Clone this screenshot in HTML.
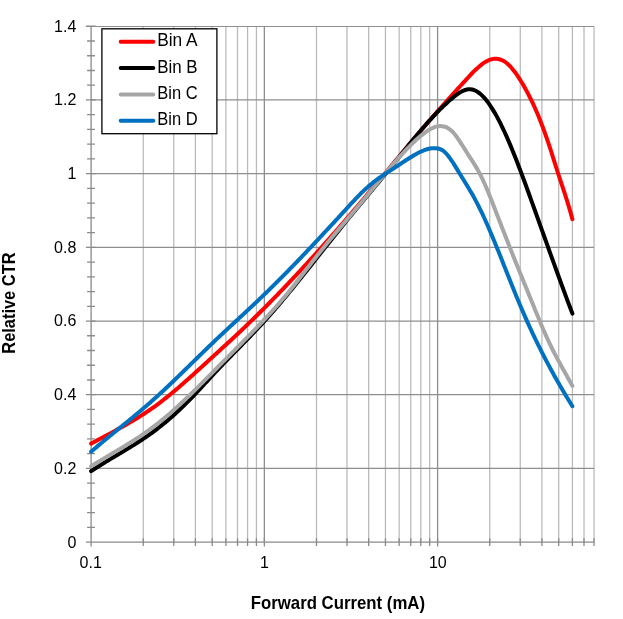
<!DOCTYPE html>
<html lang="en"><head><meta charset="utf-8"><title>Relative CTR vs Forward Current</title>
<style>
html,body{margin:0;padding:0;background:#fff;}
body{width:623px;height:619px;overflow:hidden;}
svg{display:block;}
text{font-family:"Liberation Sans",Arial,sans-serif;fill:#000;}
.tk{font-size:16px;}
.lg{font-size:17.6px;}
.ti{font-size:17.7px;font-weight:bold;}
</style></head><body>
<svg width="623" height="619" viewBox="0 0 623 619">
<rect width="623" height="619" fill="#fff"/>
<path d="M143.25 26.52V542.10M173.76 26.52V542.10M195.41 26.52V542.10M212.20 26.52V542.10M225.91 26.52V542.10M237.51 26.52V542.10M247.56 26.52V542.10M256.42 26.52V542.10M316.50 26.52V542.10M347.01 26.52V542.10M368.66 26.52V542.10M385.45 26.52V542.10M399.16 26.52V542.10M410.76 26.52V542.10M420.81 26.52V542.10M429.67 26.52V542.10M489.75 26.52V542.10M520.26 26.52V542.10M541.91 26.52V542.10M558.70 26.52V542.10M572.41 26.52V542.10M584.01 26.52V542.10M594.06 26.52V542.10" stroke="#b9b9b9" stroke-width="1.25" fill="none"/>
<path d="M264.35 26.52V542.10M437.60 26.52V542.10" stroke="#8e8e8e" stroke-width="1.3" fill="none"/>
<path d="M91.10 468.41H594.06M91.10 394.72H594.06M91.10 321.03H594.06M91.10 247.34H594.06M91.10 173.65H594.06M91.10 99.96H594.06M91.10 26.52H594.06" stroke="#8e8e8e" stroke-width="1.2" fill="none"/>
<path d="M91.10 26.52V546.10M86.10 542.10H594.06M85.90 542.10H95.60M87.10 527.36H94.90M87.10 512.62H94.90M87.10 497.89H94.90M87.10 483.15H94.90M85.90 468.41H95.60M87.10 453.67H94.90M87.10 438.93H94.90M87.10 424.20H94.90M87.10 409.46H94.90M85.90 394.72H95.60M87.10 379.98H94.90M87.10 365.24H94.90M87.10 350.51H94.90M87.10 335.77H94.90M85.90 321.03H95.60M87.10 306.29H94.90M87.10 291.55H94.90M87.10 276.82H94.90M87.10 262.08H94.90M85.90 247.34H95.60M87.10 232.60H94.90M87.10 217.86H94.90M87.10 203.13H94.90M87.10 188.39H94.90M85.90 173.65H95.60M87.10 158.91H94.90M87.10 144.17H94.90M87.10 129.44H94.90M87.10 114.70H94.90M85.90 99.96H95.60M87.10 85.22H94.90M87.10 70.48H94.90M87.10 55.75H94.90M87.10 41.01H94.90M85.90 26.27H95.60M91.10 538.30V546.50M143.25 538.30V545.90M173.76 538.30V545.90M195.41 538.30V545.90M212.20 538.30V545.90M225.91 538.30V545.90M237.51 538.30V545.90M247.56 538.30V545.90M256.42 538.30V545.90M264.35 538.30V546.50M316.50 538.30V545.90M347.01 538.30V545.90M368.66 538.30V545.90M385.45 538.30V545.90M399.16 538.30V545.90M410.76 538.30V545.90M420.81 538.30V545.90M429.67 538.30V545.90M437.60 538.30V546.50M489.75 538.30V545.90M520.26 538.30V545.90M541.91 538.30V545.90M558.70 538.30V545.90M572.41 538.30V545.90M584.01 538.30V545.90M594.06 538.30V545.90" stroke="#8a8a8a" stroke-width="1.3" fill="none"/>
<path d="M91.10 443.62C91.77 443.26 92.44 442.90 93.11 442.54C93.77 442.17 94.44 441.82 95.11 441.46C95.78 441.10 96.45 440.74 97.12 440.38C97.78 440.02 98.45 439.67 99.12 439.31C99.79 438.95 100.46 438.60 101.13 438.24C101.80 437.88 102.46 437.53 103.13 437.17C103.80 436.82 104.47 436.46 105.14 436.11C105.81 435.75 106.47 435.39 107.14 435.04C107.81 434.68 108.48 434.32 109.15 433.96C109.82 433.61 110.49 433.25 111.15 432.89C111.82 432.53 112.49 432.17 113.16 431.81C113.83 431.45 114.50 431.09 115.16 430.72C115.83 430.36 116.50 430.00 117.17 429.63C117.84 429.27 118.51 428.90 119.18 428.53C119.84 428.16 120.51 427.79 121.18 427.42C121.85 427.05 122.52 426.68 123.19 426.30C123.86 425.93 124.52 425.55 125.19 425.17C125.86 424.79 126.53 424.41 127.20 424.03C127.87 423.64 128.53 423.26 129.20 422.87C129.87 422.48 130.54 422.09 131.21 421.70C131.88 421.30 132.55 420.91 133.21 420.51C133.88 420.11 134.55 419.71 135.22 419.30C135.89 418.90 136.56 418.49 137.22 418.08C137.89 417.67 138.56 417.25 139.23 416.84C139.90 416.42 140.57 416.00 141.24 415.57C141.90 415.15 142.57 414.72 143.24 414.29C143.91 413.85 144.58 413.42 145.25 412.98C145.91 412.54 146.58 412.09 147.25 411.64C147.92 411.19 148.59 410.74 149.26 410.28C149.93 409.83 150.59 409.37 151.26 408.90C151.93 408.43 152.60 407.96 153.27 407.49C153.94 407.01 154.60 406.53 155.27 406.05C155.94 405.56 156.61 405.07 157.28 404.58C157.95 404.08 158.62 403.58 159.28 403.08C159.95 402.58 160.62 402.07 161.29 401.55C161.96 401.04 162.63 400.52 163.29 400.00C163.96 399.48 164.63 398.96 165.30 398.43C165.97 397.90 166.64 397.36 167.31 396.83C167.97 396.29 168.64 395.75 169.31 395.21C169.98 394.66 170.65 394.11 171.32 393.56C171.99 393.01 172.65 392.46 173.32 391.90C173.99 391.34 174.66 390.78 175.33 390.22C176.00 389.65 176.66 389.09 177.33 388.52C178.00 387.95 178.67 387.37 179.34 386.80C180.01 386.22 180.68 385.65 181.34 385.07C182.01 384.49 182.68 383.90 183.35 383.32C184.02 382.73 184.69 382.15 185.35 381.56C186.02 380.97 186.69 380.38 187.36 379.79C188.03 379.19 188.70 378.60 189.37 378.00C190.03 377.40 190.70 376.81 191.37 376.21C192.04 375.61 192.71 375.01 193.38 374.40C194.04 373.80 194.71 373.20 195.38 372.59C196.05 371.99 196.72 371.38 197.39 370.77C198.06 370.17 198.72 369.56 199.39 368.95C200.06 368.34 200.73 367.73 201.40 367.12C202.07 366.51 202.73 365.90 203.40 365.29C204.07 364.68 204.74 364.07 205.41 363.46C206.08 362.85 206.75 362.24 207.41 361.63C208.08 361.02 208.75 360.40 209.42 359.79C210.09 359.18 210.76 358.57 211.43 357.96C212.09 357.35 212.76 356.74 213.43 356.13C214.10 355.52 214.77 354.91 215.44 354.30C216.10 353.69 216.77 353.08 217.44 352.48C218.11 351.87 218.78 351.26 219.45 350.65C220.12 350.04 220.78 349.43 221.45 348.82C222.12 348.21 222.79 347.60 223.46 346.99C224.13 346.38 224.79 345.77 225.46 345.16C226.13 344.55 226.80 343.94 227.47 343.32C228.14 342.71 228.81 342.10 229.47 341.48C230.14 340.87 230.81 340.25 231.48 339.63C232.15 339.02 232.82 338.40 233.48 337.78C234.15 337.16 234.82 336.54 235.49 335.92C236.16 335.29 236.83 334.67 237.50 334.04C238.16 333.42 238.83 332.79 239.50 332.16C240.17 331.53 240.84 330.90 241.51 330.27C242.17 329.64 242.84 329.00 243.51 328.37C244.18 327.73 244.85 327.09 245.52 326.45C246.19 325.81 246.85 325.17 247.52 324.53C248.19 323.89 248.86 323.24 249.53 322.60C250.20 321.95 250.86 321.30 251.53 320.65C252.20 320.00 252.87 319.35 253.54 318.70C254.21 318.05 254.88 317.39 255.54 316.74C256.21 316.08 256.88 315.43 257.55 314.77C258.22 314.11 258.89 313.45 259.55 312.79C260.22 312.12 260.89 311.46 261.56 310.79C262.23 310.13 262.90 309.46 263.57 308.79C264.23 308.13 264.90 307.46 265.57 306.79C266.24 306.11 266.91 305.44 267.58 304.77C268.25 304.09 268.91 303.42 269.58 302.74C270.25 302.06 270.92 301.38 271.59 300.70C272.26 300.02 272.92 299.34 273.59 298.66C274.26 297.97 274.93 297.29 275.60 296.60C276.27 295.92 276.94 295.23 277.60 294.54C278.27 293.85 278.94 293.16 279.61 292.47C280.28 291.77 280.95 291.08 281.61 290.39C282.28 289.69 282.95 288.99 283.62 288.30C284.29 287.60 284.96 286.90 285.63 286.20C286.29 285.50 286.96 284.80 287.63 284.09C288.30 283.39 288.97 282.68 289.64 281.98C290.30 281.27 290.97 280.56 291.64 279.86C292.31 279.15 292.98 278.44 293.65 277.72C294.32 277.01 294.98 276.30 295.65 275.59C296.32 274.87 296.99 274.16 297.66 273.44C298.33 272.72 298.99 272.00 299.66 271.28C300.33 270.56 301.00 269.84 301.67 269.12C302.34 268.40 303.01 267.68 303.67 266.95C304.34 266.23 305.01 265.50 305.68 264.77C306.35 264.05 307.02 263.32 307.69 262.59C308.35 261.86 309.02 261.13 309.69 260.40C310.36 259.66 311.03 258.93 311.70 258.19C312.36 257.46 313.03 256.72 313.70 255.99C314.37 255.25 315.04 254.51 315.71 253.77C316.38 253.03 317.04 252.29 317.71 251.55C318.38 250.81 319.05 250.07 319.72 249.32C320.39 248.58 321.05 247.83 321.72 247.08C322.39 246.34 323.06 245.59 323.73 244.84C324.40 244.09 325.07 243.34 325.73 242.59C326.40 241.84 327.07 241.09 327.74 240.33C328.41 239.58 329.08 238.83 329.74 238.07C330.41 237.32 331.08 236.56 331.75 235.80C332.42 235.04 333.09 234.28 333.76 233.52C334.42 232.76 335.09 232.00 335.76 231.24C336.43 230.48 337.10 229.72 337.77 228.95C338.43 228.19 339.10 227.42 339.77 226.66C340.44 225.89 341.11 225.12 341.78 224.35C342.45 223.59 343.11 222.82 343.78 222.05C344.45 221.28 345.12 220.51 345.79 219.73C346.46 218.96 347.12 218.19 347.79 217.41C348.46 216.64 349.13 215.86 349.80 215.09C350.47 214.31 351.14 213.53 351.80 212.76C352.47 211.98 353.14 211.20 353.81 210.42C354.48 209.64 355.15 208.86 355.81 208.08C356.48 207.29 357.15 206.51 357.82 205.73C358.49 204.94 359.16 204.16 359.83 203.37C360.49 202.59 361.16 201.80 361.83 201.01C362.50 200.23 363.17 199.44 363.84 198.65C364.51 197.86 365.17 197.07 365.84 196.28C366.51 195.49 367.18 194.70 367.85 193.90C368.52 193.11 369.18 192.32 369.85 191.52C370.52 190.73 371.19 189.94 371.86 189.14C372.53 188.34 373.20 187.55 373.86 186.75C374.53 185.95 375.20 185.16 375.87 184.36C376.54 183.56 377.21 182.76 377.87 181.96C378.54 181.16 379.21 180.36 379.88 179.56C380.55 178.76 381.22 177.96 381.89 177.16C382.55 176.36 383.22 175.56 383.89 174.76C384.56 173.96 385.23 173.15 385.90 172.35C386.56 171.55 387.23 170.75 387.90 169.95C388.57 169.14 389.24 168.34 389.91 167.54C390.58 166.74 391.24 165.93 391.91 165.13C392.58 164.33 393.25 163.53 393.92 162.72C394.59 161.92 395.25 161.12 395.92 160.32C396.59 159.52 397.26 158.72 397.93 157.91C398.60 157.11 399.27 156.31 399.93 155.51C400.60 154.71 401.27 153.91 401.94 153.11C402.61 152.31 403.28 151.51 403.94 150.71C404.61 149.91 405.28 149.11 405.95 148.32C406.62 147.52 407.29 146.72 407.96 145.93C408.62 145.13 409.29 144.33 409.96 143.54C410.63 142.74 411.30 141.95 411.97 141.15C412.64 140.36 413.30 139.57 413.97 138.78C414.64 137.98 415.31 137.19 415.98 136.40C416.65 135.61 417.31 134.82 417.98 134.04C418.65 133.25 419.32 132.46 419.99 131.68C420.66 130.89 421.33 130.11 421.99 129.32C422.66 128.54 423.33 127.76 424.00 126.98C424.67 126.20 425.34 125.42 426.00 124.64C426.67 123.86 427.34 123.08 428.01 122.31C428.68 121.53 429.35 120.76 430.02 119.98C430.68 119.21 431.35 118.44 432.02 117.67C432.69 116.90 433.36 116.13 434.03 115.37C434.69 114.60 435.36 113.84 436.03 113.07C436.70 112.31 437.37 111.55 438.04 110.79C438.71 110.03 439.37 109.28 440.04 108.52C440.71 107.76 441.38 107.01 442.05 106.26C442.72 105.51 443.38 104.75 444.05 104.00C444.72 103.26 445.39 102.51 446.06 101.76C446.73 101.01 447.40 100.27 448.06 99.53C448.73 98.78 449.40 98.04 450.07 97.30C450.74 96.56 451.41 95.82 452.07 95.08C452.74 94.34 453.41 93.60 454.08 92.86C454.75 92.13 455.42 91.39 456.09 90.66C456.75 89.92 457.42 89.19 458.09 88.45C458.76 87.72 459.43 86.99 460.10 86.26C460.77 85.52 461.43 84.79 462.10 84.06C462.77 83.33 463.44 82.60 464.11 81.87C464.78 81.14 465.44 80.42 466.11 79.69C466.78 78.96 467.45 78.23 468.12 77.51C468.79 76.79 469.46 76.07 470.12 75.36C470.79 74.64 471.46 73.94 472.13 73.25C472.80 72.56 473.47 71.87 474.13 71.21C474.80 70.54 475.47 69.89 476.14 69.25C476.81 68.62 477.48 68.00 478.15 67.40C478.81 66.81 479.48 66.23 480.15 65.68C480.82 65.13 481.49 64.60 482.16 64.10C482.82 63.61 483.49 63.13 484.16 62.69C484.83 62.25 485.50 61.85 486.17 61.47C486.84 61.10 487.50 60.76 488.17 60.45C488.84 60.15 489.51 59.89 490.18 59.66C490.85 59.44 491.51 59.26 492.18 59.12C492.85 58.97 493.52 58.88 494.19 58.82C494.86 58.76 495.53 58.75 496.19 58.78C496.86 58.82 497.53 58.89 498.20 59.01C498.87 59.14 499.54 59.30 500.21 59.52C500.87 59.73 501.54 59.99 502.21 60.30C502.88 60.61 503.55 60.97 504.22 61.38C504.88 61.79 505.55 62.24 506.22 62.75C506.89 63.26 507.56 63.82 508.23 64.43C508.90 65.04 509.56 65.70 510.23 66.41C510.90 67.12 511.57 67.87 512.24 68.67C512.91 69.47 513.57 70.31 514.24 71.19C514.91 72.07 515.58 72.99 516.25 73.94C516.92 74.89 517.59 75.87 518.25 76.89C518.92 77.90 519.59 78.95 520.26 80.02C520.93 81.08 521.60 82.18 522.26 83.30C522.93 84.42 523.60 85.56 524.27 86.74C524.94 87.91 525.61 89.11 526.28 90.34C526.94 91.57 527.61 92.83 528.28 94.12C528.95 95.40 529.62 96.72 530.29 98.07C530.95 99.42 531.62 100.79 532.29 102.20C532.96 103.62 533.63 105.06 534.30 106.54C534.97 108.01 535.63 109.52 536.30 111.07C536.97 112.61 537.64 114.19 538.31 115.80C538.98 117.42 539.64 119.07 540.31 120.75C540.98 122.44 541.65 124.16 542.32 125.93C542.99 127.69 543.66 129.49 544.32 131.33C544.99 133.17 545.66 135.05 546.33 136.97C547.00 138.89 547.67 140.85 548.34 142.85C549.00 144.85 549.67 146.89 550.34 148.97C551.01 151.04 551.68 153.14 552.35 155.25C553.01 157.37 553.68 159.50 554.35 161.62C555.02 163.75 555.69 165.87 556.36 167.98C557.03 170.09 557.69 172.18 558.36 174.24C559.03 176.30 559.70 178.33 560.37 180.34C561.04 182.36 561.70 184.36 562.37 186.36C563.04 188.37 563.71 190.38 564.38 192.41C565.05 194.45 565.72 196.51 566.38 198.61C567.05 200.71 567.72 202.85 568.39 205.05C569.06 207.26 569.73 209.52 570.39 211.86C571.06 214.20 571.73 216.63 572.40 219.15" stroke="#ff0000" stroke-width="4.0" fill="none" stroke-linecap="round" stroke-linejoin="round"/>
<path d="M91.10 471.17C91.77 470.73 92.44 470.29 93.11 469.85C93.77 469.41 94.44 468.98 95.11 468.55C95.78 468.12 96.45 467.69 97.12 467.26C97.78 466.84 98.45 466.41 99.12 465.99C99.79 465.57 100.46 465.15 101.13 464.74C101.80 464.32 102.46 463.91 103.13 463.50C103.80 463.09 104.47 462.68 105.14 462.27C105.81 461.86 106.47 461.46 107.14 461.05C107.81 460.65 108.48 460.24 109.15 459.84C109.82 459.44 110.49 459.04 111.15 458.64C111.82 458.24 112.49 457.84 113.16 457.44C113.83 457.04 114.50 456.64 115.16 456.24C115.83 455.84 116.50 455.44 117.17 455.05C117.84 454.65 118.51 454.25 119.18 453.85C119.84 453.45 120.51 453.05 121.18 452.65C121.85 452.25 122.52 451.85 123.19 451.45C123.86 451.05 124.52 450.65 125.19 450.25C125.86 449.84 126.53 449.44 127.20 449.03C127.87 448.63 128.53 448.22 129.20 447.81C129.87 447.40 130.54 446.99 131.21 446.58C131.88 446.16 132.55 445.75 133.21 445.33C133.88 444.92 134.55 444.50 135.22 444.07C135.89 443.65 136.56 443.23 137.22 442.80C137.89 442.37 138.56 441.94 139.23 441.51C139.90 441.07 140.57 440.64 141.24 440.20C141.90 439.76 142.57 439.31 143.24 438.86C143.91 438.42 144.58 437.96 145.25 437.51C145.91 437.05 146.58 436.59 147.25 436.13C147.92 435.67 148.59 435.20 149.26 434.73C149.93 434.25 150.59 433.78 151.26 433.29C151.93 432.81 152.60 432.33 153.27 431.83C153.94 431.34 154.60 430.84 155.27 430.34C155.94 429.84 156.61 429.33 157.28 428.82C157.95 428.30 158.62 427.78 159.28 427.26C159.95 426.74 160.62 426.21 161.29 425.67C161.96 425.14 162.63 424.60 163.29 424.05C163.96 423.51 164.63 422.96 165.30 422.40C165.97 421.84 166.64 421.28 167.31 420.72C167.97 420.15 168.64 419.58 169.31 419.00C169.98 418.43 170.65 417.84 171.32 417.26C171.99 416.67 172.65 416.08 173.32 415.48C173.99 414.88 174.66 414.28 175.33 413.67C176.00 413.06 176.66 412.45 177.33 411.83C178.00 411.21 178.67 410.59 179.34 409.96C180.01 409.33 180.68 408.70 181.34 408.06C182.01 407.42 182.68 406.78 183.35 406.13C184.02 405.48 184.69 404.82 185.35 404.17C186.02 403.51 186.69 402.84 187.36 402.17C188.03 401.50 188.70 400.83 189.37 400.15C190.03 399.47 190.70 398.79 191.37 398.10C192.04 397.41 192.71 396.72 193.38 396.02C194.04 395.32 194.71 394.61 195.38 393.90C196.05 393.20 196.72 392.48 197.39 391.76C198.06 391.05 198.72 390.32 199.39 389.60C200.06 388.88 200.73 388.15 201.40 387.42C202.07 386.69 202.73 385.96 203.40 385.22C204.07 384.49 204.74 383.76 205.41 383.02C206.08 382.29 206.75 381.56 207.41 380.82C208.08 380.09 208.75 379.36 209.42 378.63C210.09 377.90 210.76 377.18 211.43 376.45C212.09 375.73 212.76 375.01 213.43 374.29C214.10 373.57 214.77 372.86 215.44 372.14C216.10 371.43 216.77 370.72 217.44 370.02C218.11 369.31 218.78 368.61 219.45 367.91C220.12 367.21 220.78 366.51 221.45 365.81C222.12 365.12 222.79 364.42 223.46 363.73C224.13 363.04 224.79 362.35 225.46 361.66C226.13 360.97 226.80 360.28 227.47 359.59C228.14 358.91 228.81 358.22 229.47 357.54C230.14 356.86 230.81 356.17 231.48 355.49C232.15 354.81 232.82 354.13 233.48 353.44C234.15 352.76 234.82 352.08 235.49 351.40C236.16 350.72 236.83 350.04 237.50 349.36C238.16 348.68 238.83 348.00 239.50 347.32C240.17 346.64 240.84 345.95 241.51 345.27C242.17 344.59 242.84 343.91 243.51 343.22C244.18 342.54 244.85 341.85 245.52 341.17C246.19 340.48 246.85 339.79 247.52 339.10C248.19 338.41 248.86 337.72 249.53 337.03C250.20 336.34 250.86 335.64 251.53 334.95C252.20 334.25 252.87 333.55 253.54 332.85C254.21 332.15 254.88 331.44 255.54 330.74C256.21 330.03 256.88 329.32 257.55 328.61C258.22 327.90 258.89 327.18 259.55 326.46C260.22 325.74 260.89 325.02 261.56 324.30C262.23 323.57 262.90 322.84 263.57 322.11C264.23 321.38 264.90 320.64 265.57 319.90C266.24 319.16 266.91 318.42 267.58 317.67C268.25 316.92 268.91 316.17 269.58 315.41C270.25 314.66 270.92 313.90 271.59 313.14C272.26 312.37 272.92 311.61 273.59 310.84C274.26 310.07 274.93 309.30 275.60 308.52C276.27 307.75 276.94 306.97 277.60 306.19C278.27 305.41 278.94 304.62 279.61 303.83C280.28 303.05 280.95 302.26 281.61 301.46C282.28 300.67 282.95 299.87 283.62 299.08C284.29 298.28 284.96 297.48 285.63 296.67C286.29 295.87 286.96 295.06 287.63 294.26C288.30 293.45 288.97 292.64 289.64 291.82C290.30 291.01 290.97 290.20 291.64 289.38C292.31 288.56 292.98 287.75 293.65 286.93C294.32 286.11 294.98 285.28 295.65 284.46C296.32 283.64 296.99 282.81 297.66 281.98C298.33 281.16 298.99 280.33 299.66 279.50C300.33 278.67 301.00 277.84 301.67 277.00C302.34 276.17 303.01 275.34 303.67 274.50C304.34 273.66 305.01 272.83 305.68 271.99C306.35 271.15 307.02 270.32 307.69 269.48C308.35 268.64 309.02 267.80 309.69 266.96C310.36 266.12 311.03 265.27 311.70 264.43C312.36 263.59 313.03 262.75 313.70 261.91C314.37 261.06 315.04 260.22 315.71 259.38C316.38 258.53 317.04 257.69 317.71 256.84C318.38 256.00 319.05 255.16 319.72 254.31C320.39 253.47 321.05 252.62 321.72 251.78C322.39 250.94 323.06 250.09 323.73 249.25C324.40 248.41 325.07 247.56 325.73 246.72C326.40 245.88 327.07 245.04 327.74 244.19C328.41 243.35 329.08 242.51 329.74 241.67C330.41 240.83 331.08 239.99 331.75 239.15C332.42 238.31 333.09 237.48 333.76 236.64C334.42 235.80 335.09 234.97 335.76 234.13C336.43 233.30 337.10 232.47 337.77 231.63C338.43 230.80 339.10 229.97 339.77 229.14C340.44 228.31 341.11 227.49 341.78 226.66C342.45 225.83 343.11 225.01 343.78 224.19C344.45 223.36 345.12 222.54 345.79 221.72C346.46 220.91 347.12 220.09 347.79 219.27C348.46 218.46 349.13 217.64 349.80 216.83C350.47 216.02 351.14 215.21 351.80 214.40C352.47 213.59 353.14 212.79 353.81 211.98C354.48 211.18 355.15 210.37 355.81 209.57C356.48 208.76 357.15 207.96 357.82 207.16C358.49 206.36 359.16 205.56 359.83 204.76C360.49 203.96 361.16 203.16 361.83 202.36C362.50 201.56 363.17 200.76 363.84 199.96C364.51 199.16 365.17 198.36 365.84 197.57C366.51 196.77 367.18 195.97 367.85 195.17C368.52 194.37 369.18 193.57 369.85 192.77C370.52 191.97 371.19 191.17 371.86 190.37C372.53 189.57 373.20 188.77 373.86 187.96C374.53 187.16 375.20 186.36 375.87 185.55C376.54 184.75 377.21 183.94 377.87 183.13C378.54 182.33 379.21 181.52 379.88 180.71C380.55 179.90 381.22 179.08 381.89 178.27C382.55 177.46 383.22 176.64 383.89 175.82C384.56 175.00 385.23 174.18 385.90 173.36C386.56 172.54 387.23 171.72 387.90 170.89C388.57 170.06 389.24 169.24 389.91 168.41C390.58 167.58 391.24 166.75 391.91 165.92C392.58 165.09 393.25 164.25 393.92 163.42C394.59 162.59 395.25 161.75 395.92 160.92C396.59 160.09 397.26 159.25 397.93 158.42C398.60 157.58 399.27 156.75 399.93 155.92C400.60 155.08 401.27 154.25 401.94 153.42C402.61 152.58 403.28 151.75 403.94 150.92C404.61 150.09 405.28 149.26 405.95 148.44C406.62 147.61 407.29 146.78 407.96 145.96C408.62 145.14 409.29 144.31 409.96 143.49C410.63 142.67 411.30 141.86 411.97 141.04C412.64 140.23 413.30 139.42 413.97 138.61C414.64 137.80 415.31 136.99 415.98 136.19C416.65 135.39 417.31 134.59 417.98 133.79C418.65 133.00 419.32 132.21 419.99 131.42C420.66 130.63 421.33 129.85 421.99 129.07C422.66 128.30 423.33 127.52 424.00 126.75C424.67 125.98 425.34 125.22 426.00 124.46C426.67 123.70 427.34 122.95 428.01 122.20C428.68 121.45 429.35 120.71 430.02 119.98C430.68 119.24 431.35 118.51 432.02 117.79C432.69 117.06 433.36 116.35 434.03 115.64C434.69 114.92 435.36 114.22 436.03 113.52C436.70 112.83 437.37 112.14 438.04 111.46C438.71 110.78 439.37 110.10 440.04 109.43C440.71 108.77 441.38 108.11 442.05 107.46C442.72 106.81 443.38 106.17 444.05 105.53C444.72 104.90 445.39 104.27 446.06 103.66C446.73 103.04 447.40 102.44 448.06 101.84C448.73 101.24 449.40 100.65 450.07 100.07C450.74 99.50 451.41 98.93 452.07 98.37C452.74 97.81 453.41 97.26 454.08 96.72C454.75 96.19 455.42 95.67 456.09 95.16C456.75 94.66 457.42 94.17 458.09 93.71C458.76 93.25 459.43 92.82 460.10 92.41C460.77 92.01 461.43 91.63 462.10 91.29C462.77 90.95 463.44 90.65 464.11 90.38C464.78 90.12 465.44 89.90 466.11 89.72C466.78 89.54 467.45 89.42 468.12 89.34C468.79 89.26 469.46 89.24 470.12 89.27C470.79 89.30 471.46 89.38 472.13 89.52C472.80 89.66 473.47 89.86 474.13 90.11C474.80 90.35 475.47 90.65 476.14 91.01C476.81 91.37 477.48 91.77 478.15 92.23C478.81 92.69 479.48 93.21 480.15 93.76C480.82 94.32 481.49 94.93 482.16 95.59C482.82 96.24 483.49 96.95 484.16 97.69C484.83 98.44 485.50 99.23 486.17 100.06C486.84 100.89 487.50 101.76 488.17 102.67C488.84 103.58 489.51 104.54 490.18 105.52C490.85 106.51 491.51 107.54 492.18 108.60C492.85 109.66 493.52 110.75 494.19 111.88C494.86 113.02 495.53 114.18 496.19 115.38C496.86 116.58 497.53 117.81 498.20 119.07C498.87 120.33 499.54 121.63 500.21 122.95C500.87 124.27 501.54 125.63 502.21 127.01C502.88 128.39 503.55 129.81 504.22 131.25C504.88 132.68 505.55 134.15 506.22 135.64C506.89 137.14 507.56 138.66 508.23 140.20C508.90 141.74 509.56 143.31 510.23 144.90C510.90 146.50 511.57 148.11 512.24 149.75C512.91 151.38 513.57 153.04 514.24 154.71C514.91 156.39 515.58 158.08 516.25 159.79C516.92 161.51 517.59 163.23 518.25 164.98C518.92 166.72 519.59 168.48 520.26 170.25C520.93 172.03 521.60 173.81 522.26 175.61C522.93 177.40 523.60 179.21 524.27 181.03C524.94 182.85 525.61 184.67 526.28 186.51C526.94 188.34 527.61 190.18 528.28 192.03C528.95 193.88 529.62 195.73 530.29 197.58C530.95 199.44 531.62 201.30 532.29 203.16C532.96 205.02 533.63 206.88 534.30 208.75C534.97 210.61 535.63 212.48 536.30 214.34C536.97 216.21 537.64 218.08 538.31 219.95C538.98 221.82 539.64 223.68 540.31 225.55C540.98 227.42 541.65 229.29 542.32 231.16C542.99 233.03 543.66 234.90 544.32 236.77C544.99 238.64 545.66 240.51 546.33 242.38C547.00 244.24 547.67 246.11 548.34 247.97C549.00 249.84 549.67 251.70 550.34 253.56C551.01 255.42 551.68 257.28 552.35 259.13C553.01 260.99 553.68 262.84 554.35 264.69C555.02 266.54 555.69 268.39 556.36 270.23C557.03 272.08 557.69 273.92 558.36 275.75C559.03 277.59 559.70 279.42 560.37 281.25C561.04 283.08 561.70 284.90 562.37 286.72C563.04 288.54 563.71 290.36 564.38 292.17C565.05 293.98 565.72 295.78 566.38 297.58C567.05 299.38 567.72 301.17 568.39 302.95C569.06 304.74 569.73 306.52 570.39 308.29C571.06 310.07 571.73 311.83 572.40 313.59" stroke="#000000" stroke-width="4.0" fill="none" stroke-linecap="round" stroke-linejoin="round"/>
<path d="M91.10 466.29C91.77 465.87 92.44 465.45 93.11 465.04C93.77 464.62 94.44 464.21 95.11 463.79C95.78 463.38 96.45 462.97 97.12 462.56C97.78 462.15 98.45 461.75 99.12 461.34C99.79 460.94 100.46 460.53 101.13 460.13C101.80 459.73 102.46 459.33 103.13 458.93C103.80 458.53 104.47 458.13 105.14 457.73C105.81 457.33 106.47 456.93 107.14 456.53C107.81 456.14 108.48 455.74 109.15 455.34C109.82 454.95 110.49 454.55 111.15 454.15C111.82 453.76 112.49 453.36 113.16 452.97C113.83 452.57 114.50 452.17 115.16 451.77C115.83 451.38 116.50 450.98 117.17 450.58C117.84 450.18 118.51 449.78 119.18 449.38C119.84 448.98 120.51 448.58 121.18 448.18C121.85 447.78 122.52 447.38 123.19 446.97C123.86 446.57 124.52 446.16 125.19 445.75C125.86 445.34 126.53 444.93 127.20 444.52C127.87 444.11 128.53 443.70 129.20 443.28C129.87 442.86 130.54 442.45 131.21 442.03C131.88 441.61 132.55 441.18 133.21 440.76C133.88 440.33 134.55 439.90 135.22 439.47C135.89 439.04 136.56 438.61 137.22 438.17C137.89 437.73 138.56 437.29 139.23 436.85C139.90 436.41 140.57 435.96 141.24 435.51C141.90 435.06 142.57 434.60 143.24 434.14C143.91 433.69 144.58 433.22 145.25 432.76C145.91 432.29 146.58 431.82 147.25 431.34C147.92 430.87 148.59 430.39 149.26 429.91C149.93 429.42 150.59 428.93 151.26 428.44C151.93 427.95 152.60 427.45 153.27 426.95C153.94 426.44 154.60 425.93 155.27 425.42C155.94 424.91 156.61 424.39 157.28 423.86C157.95 423.34 158.62 422.81 159.28 422.27C159.95 421.74 160.62 421.20 161.29 420.66C161.96 420.11 162.63 419.56 163.29 419.01C163.96 418.46 164.63 417.90 165.30 417.34C165.97 416.77 166.64 416.21 167.31 415.64C167.97 415.07 168.64 414.49 169.31 413.91C169.98 413.33 170.65 412.75 171.32 412.16C171.99 411.57 172.65 410.98 173.32 410.39C173.99 409.79 174.66 409.19 175.33 408.59C176.00 407.99 176.66 407.38 177.33 406.77C178.00 406.16 178.67 405.55 179.34 404.94C180.01 404.32 180.68 403.70 181.34 403.08C182.01 402.46 182.68 401.83 183.35 401.20C184.02 400.57 184.69 399.94 185.35 399.31C186.02 398.68 186.69 398.04 187.36 397.40C188.03 396.76 188.70 396.12 189.37 395.48C190.03 394.83 190.70 394.19 191.37 393.54C192.04 392.89 192.71 392.24 193.38 391.59C194.04 390.93 194.71 390.28 195.38 389.62C196.05 388.96 196.72 388.31 197.39 387.65C198.06 386.98 198.72 386.32 199.39 385.66C200.06 385.00 200.73 384.33 201.40 383.66C202.07 383.00 202.73 382.33 203.40 381.66C204.07 380.99 204.74 380.32 205.41 379.65C206.08 378.98 206.75 378.31 207.41 377.63C208.08 376.96 208.75 376.29 209.42 375.61C210.09 374.94 210.76 374.26 211.43 373.59C212.09 372.91 212.76 372.23 213.43 371.56C214.10 370.88 214.77 370.20 215.44 369.53C216.10 368.85 216.77 368.17 217.44 367.50C218.11 366.82 218.78 366.14 219.45 365.46C220.12 364.79 220.78 364.11 221.45 363.43C222.12 362.76 222.79 362.08 223.46 361.40C224.13 360.73 224.79 360.05 225.46 359.38C226.13 358.70 226.80 358.03 227.47 357.36C228.14 356.68 228.81 356.01 229.47 355.34C230.14 354.66 230.81 353.99 231.48 353.32C232.15 352.65 232.82 351.98 233.48 351.30C234.15 350.63 234.82 349.96 235.49 349.29C236.16 348.62 236.83 347.95 237.50 347.27C238.16 346.60 238.83 345.93 239.50 345.25C240.17 344.58 240.84 343.91 241.51 343.23C242.17 342.56 242.84 341.88 243.51 341.21C244.18 340.53 244.85 339.85 245.52 339.17C246.19 338.49 246.85 337.81 247.52 337.13C248.19 336.45 248.86 335.77 249.53 335.09C250.20 334.40 250.86 333.72 251.53 333.03C252.20 332.34 252.87 331.65 253.54 330.96C254.21 330.27 254.88 329.58 255.54 328.89C256.21 328.19 256.88 327.49 257.55 326.80C258.22 326.10 258.89 325.40 259.55 324.69C260.22 323.99 260.89 323.28 261.56 322.57C262.23 321.86 262.90 321.15 263.57 320.44C264.23 319.72 264.90 319.01 265.57 318.29C266.24 317.57 266.91 316.84 267.58 316.12C268.25 315.39 268.91 314.66 269.58 313.93C270.25 313.19 270.92 312.46 271.59 311.72C272.26 310.98 272.92 310.24 273.59 309.49C274.26 308.74 274.93 307.99 275.60 307.23C276.27 306.48 276.94 305.72 277.60 304.96C278.27 304.19 278.94 303.43 279.61 302.65C280.28 301.88 280.95 301.11 281.61 300.33C282.28 299.55 282.95 298.76 283.62 297.97C284.29 297.18 284.96 296.39 285.63 295.59C286.29 294.79 286.96 293.98 287.63 293.17C288.30 292.36 288.97 291.55 289.64 290.73C290.30 289.91 290.97 289.08 291.64 288.25C292.31 287.42 292.98 286.59 293.65 285.75C294.32 284.91 294.98 284.07 295.65 283.22C296.32 282.37 296.99 281.52 297.66 280.67C298.33 279.82 298.99 278.96 299.66 278.10C300.33 277.25 301.00 276.39 301.67 275.53C302.34 274.66 303.01 273.80 303.67 272.94C304.34 272.07 305.01 271.21 305.68 270.35C306.35 269.48 307.02 268.62 307.69 267.75C308.35 266.89 309.02 266.03 309.69 265.16C310.36 264.30 311.03 263.44 311.70 262.58C312.36 261.72 313.03 260.86 313.70 260.01C314.37 259.15 315.04 258.30 315.71 257.45C316.38 256.60 317.04 255.76 317.71 254.92C318.38 254.07 319.05 253.23 319.72 252.40C320.39 251.56 321.05 250.73 321.72 249.90C322.39 249.07 323.06 248.24 323.73 247.42C324.40 246.59 325.07 245.77 325.73 244.95C326.40 244.14 327.07 243.32 327.74 242.50C328.41 241.69 329.08 240.88 329.74 240.07C330.41 239.26 331.08 238.45 331.75 237.65C332.42 236.84 333.09 236.04 333.76 235.23C334.42 234.43 335.09 233.63 335.76 232.83C336.43 232.03 337.10 231.23 337.77 230.44C338.43 229.64 339.10 228.84 339.77 228.05C340.44 227.26 341.11 226.46 341.78 225.67C342.45 224.88 343.11 224.09 343.78 223.29C344.45 222.50 345.12 221.71 345.79 220.92C346.46 220.13 347.12 219.34 347.79 218.55C348.46 217.76 349.13 216.98 349.80 216.19C350.47 215.40 351.14 214.61 351.80 213.82C352.47 213.03 353.14 212.24 353.81 211.45C354.48 210.66 355.15 209.87 355.81 209.08C356.48 208.28 357.15 207.49 357.82 206.70C358.49 205.91 359.16 205.11 359.83 204.32C360.49 203.52 361.16 202.73 361.83 201.93C362.50 201.13 363.17 200.33 363.84 199.53C364.51 198.73 365.17 197.93 365.84 197.13C366.51 196.33 367.18 195.52 367.85 194.71C368.52 193.91 369.18 193.10 369.85 192.29C370.52 191.48 371.19 190.67 371.86 189.85C372.53 189.04 373.20 188.22 373.86 187.41C374.53 186.59 375.20 185.78 375.87 184.96C376.54 184.15 377.21 183.33 377.87 182.51C378.54 181.70 379.21 180.88 379.88 180.07C380.55 179.25 381.22 178.44 381.89 177.63C382.55 176.82 383.22 176.01 383.89 175.20C384.56 174.39 385.23 173.58 385.90 172.78C386.56 171.97 387.23 171.17 387.90 170.37C388.57 169.58 389.24 168.78 389.91 167.99C390.58 167.20 391.24 166.41 391.91 165.62C392.58 164.84 393.25 164.06 393.92 163.28C394.59 162.51 395.25 161.74 395.92 160.97C396.59 160.20 397.26 159.44 397.93 158.69C398.60 157.93 399.27 157.18 399.93 156.44C400.60 155.70 401.27 154.96 401.94 154.23C402.61 153.50 403.28 152.78 403.94 152.06C404.61 151.35 405.28 150.64 405.95 149.94C406.62 149.23 407.29 148.54 407.96 147.86C408.62 147.17 409.29 146.49 409.96 145.83C410.63 145.16 411.30 144.50 411.97 143.85C412.64 143.20 413.30 142.56 413.97 141.93C414.64 141.30 415.31 140.68 415.98 140.07C416.65 139.46 417.31 138.86 417.98 138.27C418.65 137.68 419.32 137.10 419.99 136.53C420.66 135.97 421.33 135.41 421.99 134.87C422.66 134.33 423.33 133.80 424.00 133.29C424.67 132.78 425.34 132.28 426.00 131.81C426.67 131.34 427.34 130.88 428.01 130.45C428.68 130.02 429.35 129.62 430.02 129.24C430.68 128.87 431.35 128.52 432.02 128.20C432.69 127.88 433.36 127.59 434.03 127.33C434.69 127.08 435.36 126.86 436.03 126.68C436.70 126.50 437.37 126.35 438.04 126.25C438.71 126.15 439.37 126.09 440.04 126.07C440.71 126.05 441.38 126.08 442.05 126.15C442.72 126.23 443.38 126.35 444.05 126.53C444.72 126.70 445.39 126.93 446.06 127.21C446.73 127.49 447.40 127.83 448.06 128.22C448.73 128.61 449.40 129.07 450.07 129.58C450.74 130.10 451.41 130.67 452.07 131.31C452.74 131.95 453.41 132.66 454.08 133.44C454.75 134.21 455.42 135.06 456.09 135.95C456.75 136.85 457.42 137.81 458.09 138.79C458.76 139.78 459.43 140.80 460.10 141.84C460.77 142.88 461.43 143.94 462.10 144.99C462.77 146.05 463.44 147.11 464.11 148.16C464.78 149.22 465.44 150.27 466.11 151.32C466.78 152.37 467.45 153.42 468.12 154.47C468.79 155.51 469.46 156.55 470.12 157.59C470.79 158.63 471.46 159.66 472.13 160.70C472.80 161.74 473.47 162.79 474.13 163.86C474.80 164.93 475.47 166.03 476.14 167.15C476.81 168.28 477.48 169.44 478.15 170.64C478.81 171.85 479.48 173.10 480.15 174.40C480.82 175.70 481.49 177.05 482.16 178.45C482.82 179.85 483.49 181.29 484.16 182.77C484.83 184.26 485.50 185.78 486.17 187.34C486.84 188.89 487.50 190.48 488.17 192.10C488.84 193.72 489.51 195.36 490.18 197.03C490.85 198.69 491.51 200.38 492.18 202.08C492.85 203.78 493.52 205.50 494.19 207.22C494.86 208.94 495.53 210.68 496.19 212.41C496.86 214.14 497.53 215.88 498.20 217.61C498.87 219.34 499.54 221.07 500.21 222.80C500.87 224.52 501.54 226.24 502.21 227.96C502.88 229.68 503.55 231.39 504.22 233.10C504.88 234.81 505.55 236.52 506.22 238.22C506.89 239.92 507.56 241.62 508.23 243.31C508.90 245.00 509.56 246.69 510.23 248.37C510.90 250.05 511.57 251.73 512.24 253.40C512.91 255.07 513.57 256.74 514.24 258.40C514.91 260.07 515.58 261.73 516.25 263.39C516.92 265.04 517.59 266.70 518.25 268.35C518.92 270.00 519.59 271.65 520.26 273.30C520.93 274.94 521.60 276.59 522.26 278.23C522.93 279.87 523.60 281.52 524.27 283.16C524.94 284.80 525.61 286.44 526.28 288.08C526.94 289.72 527.61 291.36 528.28 293.01C528.95 294.65 529.62 296.29 530.29 297.93C530.95 299.57 531.62 301.22 532.29 302.87C532.96 304.51 533.63 306.16 534.30 307.80C534.97 309.44 535.63 311.09 536.30 312.72C536.97 314.35 537.64 315.98 538.31 317.60C538.98 319.22 539.64 320.83 540.31 322.43C540.98 324.02 541.65 325.60 542.32 327.17C542.99 328.74 543.66 330.29 544.32 331.82C544.99 333.35 545.66 334.86 546.33 336.35C547.00 337.83 547.67 339.30 548.34 340.73C549.00 342.17 549.67 343.58 550.34 344.97C551.01 346.35 551.68 347.71 552.35 349.05C553.01 350.39 553.68 351.71 554.35 353.01C555.02 354.31 555.69 355.60 556.36 356.86C557.03 358.13 557.69 359.38 558.36 360.62C559.03 361.86 559.70 363.09 560.37 364.31C561.04 365.53 561.70 366.74 562.37 367.94C563.04 369.14 563.71 370.34 564.38 371.53C565.05 372.73 565.72 373.92 566.38 375.10C567.05 376.29 567.72 377.48 568.39 378.68C569.06 379.87 569.73 381.06 570.39 382.26C571.06 383.46 571.73 384.67 572.40 385.89" stroke="#a6a6a6" stroke-width="4.0" fill="none" stroke-linecap="round" stroke-linejoin="round"/>
<path d="M91.10 451.75C91.77 451.17 92.44 450.60 93.11 450.02C93.77 449.44 94.44 448.87 95.11 448.30C95.78 447.73 96.45 447.16 97.12 446.60C97.78 446.03 98.45 445.46 99.12 444.90C99.79 444.34 100.46 443.78 101.13 443.22C101.80 442.66 102.46 442.10 103.13 441.55C103.80 440.99 104.47 440.44 105.14 439.89C105.81 439.33 106.47 438.78 107.14 438.23C107.81 437.68 108.48 437.13 109.15 436.58C109.82 436.03 110.49 435.49 111.15 434.94C111.82 434.39 112.49 433.85 113.16 433.30C113.83 432.76 114.50 432.21 115.16 431.67C115.83 431.12 116.50 430.58 117.17 430.03C117.84 429.49 118.51 428.95 119.18 428.40C119.84 427.86 120.51 427.32 121.18 426.77C121.85 426.23 122.52 425.69 123.19 425.14C123.86 424.60 124.52 424.05 125.19 423.51C125.86 422.96 126.53 422.42 127.20 421.87C127.87 421.33 128.53 420.78 129.20 420.23C129.87 419.68 130.54 419.14 131.21 418.59C131.88 418.04 132.55 417.49 133.21 416.93C133.88 416.38 134.55 415.83 135.22 415.28C135.89 414.72 136.56 414.16 137.22 413.61C137.89 413.05 138.56 412.49 139.23 411.93C139.90 411.37 140.57 410.81 141.24 410.24C141.90 409.68 142.57 409.11 143.24 408.54C143.91 407.97 144.58 407.40 145.25 406.83C145.91 406.25 146.58 405.68 147.25 405.10C147.92 404.52 148.59 403.94 149.26 403.36C149.93 402.78 150.59 402.19 151.26 401.60C151.93 401.01 152.60 400.42 153.27 399.82C153.94 399.23 154.60 398.63 155.27 398.03C155.94 397.43 156.61 396.83 157.28 396.22C157.95 395.61 158.62 395.00 159.28 394.39C159.95 393.78 160.62 393.16 161.29 392.55C161.96 391.93 162.63 391.31 163.29 390.69C163.96 390.07 164.63 389.44 165.30 388.81C165.97 388.19 166.64 387.56 167.31 386.93C167.97 386.30 168.64 385.67 169.31 385.03C169.98 384.40 170.65 383.76 171.32 383.12C171.99 382.49 172.65 381.85 173.32 381.20C173.99 380.56 174.66 379.92 175.33 379.28C176.00 378.63 176.66 377.99 177.33 377.34C178.00 376.70 178.67 376.05 179.34 375.40C180.01 374.75 180.68 374.10 181.34 373.45C182.01 372.80 182.68 372.15 183.35 371.50C184.02 370.84 184.69 370.19 185.35 369.54C186.02 368.88 186.69 368.23 187.36 367.58C188.03 366.92 188.70 366.27 189.37 365.61C190.03 364.96 190.70 364.30 191.37 363.65C192.04 362.99 192.71 362.34 193.38 361.68C194.04 361.03 194.71 360.37 195.38 359.72C196.05 359.06 196.72 358.41 197.39 357.75C198.06 357.10 198.72 356.45 199.39 355.79C200.06 355.14 200.73 354.49 201.40 353.83C202.07 353.18 202.73 352.53 203.40 351.88C204.07 351.23 204.74 350.58 205.41 349.93C206.08 349.29 206.75 348.64 207.41 347.99C208.08 347.35 208.75 346.70 209.42 346.06C210.09 345.41 210.76 344.77 211.43 344.13C212.09 343.49 212.76 342.85 213.43 342.22C214.10 341.58 214.77 340.94 215.44 340.31C216.10 339.67 216.77 339.04 217.44 338.41C218.11 337.78 218.78 337.15 219.45 336.52C220.12 335.89 220.78 335.26 221.45 334.63C222.12 334.00 222.79 333.38 223.46 332.75C224.13 332.13 224.79 331.50 225.46 330.88C226.13 330.25 226.80 329.63 227.47 329.01C228.14 328.39 228.81 327.76 229.47 327.14C230.14 326.52 230.81 325.90 231.48 325.28C232.15 324.66 232.82 324.04 233.48 323.42C234.15 322.80 234.82 322.18 235.49 321.56C236.16 320.94 236.83 320.32 237.50 319.70C238.16 319.08 238.83 318.46 239.50 317.84C240.17 317.22 240.84 316.60 241.51 315.98C242.17 315.36 242.84 314.74 243.51 314.11C244.18 313.49 244.85 312.87 245.52 312.25C246.19 311.63 246.85 311.00 247.52 310.38C248.19 309.76 248.86 309.13 249.53 308.51C250.20 307.88 250.86 307.25 251.53 306.63C252.20 306.00 252.87 305.37 253.54 304.74C254.21 304.11 254.88 303.48 255.54 302.85C256.21 302.22 256.88 301.59 257.55 300.95C258.22 300.32 258.89 299.68 259.55 299.05C260.22 298.41 260.89 297.77 261.56 297.13C262.23 296.49 262.90 295.85 263.57 295.21C264.23 294.56 264.90 293.92 265.57 293.27C266.24 292.62 266.91 291.97 267.58 291.32C268.25 290.67 268.91 290.02 269.58 289.37C270.25 288.71 270.92 288.06 271.59 287.40C272.26 286.74 272.92 286.08 273.59 285.42C274.26 284.76 274.93 284.10 275.60 283.43C276.27 282.77 276.94 282.10 277.60 281.44C278.27 280.77 278.94 280.10 279.61 279.43C280.28 278.76 280.95 278.09 281.61 277.42C282.28 276.74 282.95 276.07 283.62 275.39C284.29 274.71 284.96 274.04 285.63 273.36C286.29 272.68 286.96 272.00 287.63 271.32C288.30 270.63 288.97 269.95 289.64 269.27C290.30 268.58 290.97 267.90 291.64 267.21C292.31 266.52 292.98 265.83 293.65 265.14C294.32 264.46 294.98 263.76 295.65 263.07C296.32 262.38 296.99 261.69 297.66 260.99C298.33 260.30 298.99 259.60 299.66 258.91C300.33 258.21 301.00 257.51 301.67 256.81C302.34 256.11 303.01 255.41 303.67 254.71C304.34 254.01 305.01 253.31 305.68 252.61C306.35 251.90 307.02 251.20 307.69 250.49C308.35 249.79 309.02 249.08 309.69 248.37C310.36 247.67 311.03 246.96 311.70 246.25C312.36 245.54 313.03 244.83 313.70 244.12C314.37 243.41 315.04 242.70 315.71 241.99C316.38 241.27 317.04 240.56 317.71 239.85C318.38 239.13 319.05 238.42 319.72 237.70C320.39 236.99 321.05 236.27 321.72 235.56C322.39 234.84 323.06 234.12 323.73 233.40C324.40 232.68 325.07 231.97 325.73 231.25C326.40 230.53 327.07 229.81 327.74 229.09C328.41 228.36 329.08 227.64 329.74 226.92C330.41 226.20 331.08 225.48 331.75 224.75C332.42 224.03 333.09 223.31 333.76 222.58C334.42 221.86 335.09 221.14 335.76 220.41C336.43 219.69 337.10 218.96 337.77 218.24C338.43 217.51 339.10 216.78 339.77 216.06C340.44 215.33 341.11 214.61 341.78 213.88C342.45 213.15 343.11 212.42 343.78 211.70C344.45 210.97 345.12 210.24 345.79 209.51C346.46 208.79 347.12 208.06 347.79 207.33C348.46 206.60 349.13 205.87 349.80 205.15C350.47 204.42 351.14 203.69 351.80 202.97C352.47 202.25 353.14 201.53 353.81 200.82C354.48 200.10 355.15 199.39 355.81 198.69C356.48 197.98 357.15 197.28 357.82 196.59C358.49 195.90 359.16 195.21 359.83 194.54C360.49 193.86 361.16 193.19 361.83 192.53C362.50 191.87 363.17 191.22 363.84 190.58C364.51 189.94 365.17 189.31 365.84 188.69C366.51 188.08 367.18 187.47 367.85 186.88C368.52 186.29 369.18 185.71 369.85 185.15C370.52 184.58 371.19 184.03 371.86 183.49C372.53 182.95 373.20 182.43 373.86 181.91C374.53 181.39 375.20 180.89 375.87 180.39C376.54 179.89 377.21 179.40 377.87 178.92C378.54 178.44 379.21 177.97 379.88 177.51C380.55 177.04 381.22 176.58 381.89 176.13C382.55 175.67 383.22 175.22 383.89 174.78C384.56 174.33 385.23 173.89 385.90 173.45C386.56 173.01 387.23 172.57 387.90 172.14C388.57 171.70 389.24 171.26 389.91 170.83C390.58 170.39 391.24 169.96 391.91 169.52C392.58 169.08 393.25 168.65 393.92 168.21C394.59 167.77 395.25 167.32 395.92 166.88C396.59 166.44 397.26 166.00 397.93 165.56C398.60 165.12 399.27 164.67 399.93 164.23C400.60 163.79 401.27 163.35 401.94 162.91C402.61 162.47 403.28 162.04 403.94 161.60C404.61 161.17 405.28 160.73 405.95 160.30C406.62 159.87 407.29 159.45 407.96 159.02C408.62 158.60 409.29 158.18 409.96 157.76C410.63 157.34 411.30 156.93 411.97 156.52C412.64 156.11 413.30 155.71 413.97 155.31C414.64 154.92 415.31 154.53 415.98 154.15C416.65 153.78 417.31 153.41 417.98 153.06C418.65 152.70 419.32 152.36 419.99 152.03C420.66 151.71 421.33 151.40 421.99 151.10C422.66 150.81 423.33 150.53 424.00 150.27C424.67 150.01 425.34 149.77 426.00 149.55C426.67 149.34 427.34 149.14 428.01 148.97C428.68 148.80 429.35 148.65 430.02 148.53C430.68 148.41 431.35 148.31 432.02 148.25C432.69 148.18 433.36 148.14 434.03 148.14C434.69 148.13 435.36 148.15 436.03 148.22C436.70 148.28 437.37 148.38 438.04 148.52C438.71 148.67 439.37 148.87 440.04 149.13C440.71 149.39 441.38 149.71 442.05 150.10C442.72 150.49 443.38 150.96 444.05 151.50C444.72 152.05 445.39 152.68 446.06 153.37C446.73 154.07 447.40 154.84 448.06 155.67C448.73 156.49 449.40 157.37 450.07 158.30C450.74 159.23 451.41 160.21 452.07 161.22C452.74 162.23 453.41 163.27 454.08 164.34C454.75 165.41 455.42 166.50 456.09 167.60C456.75 168.70 457.42 169.81 458.09 170.92C458.76 172.03 459.43 173.14 460.10 174.23C460.77 175.33 461.43 176.42 462.10 177.50C462.77 178.59 463.44 179.67 464.11 180.75C464.78 181.83 465.44 182.92 466.11 184.01C466.78 185.09 467.45 186.19 468.12 187.29C468.79 188.40 469.46 189.51 470.12 190.64C470.79 191.77 471.46 192.92 472.13 194.09C472.80 195.25 473.47 196.44 474.13 197.65C474.80 198.86 475.47 200.09 476.14 201.36C476.81 202.62 477.48 203.91 478.15 205.23C478.81 206.55 479.48 207.90 480.15 209.27C480.82 210.64 481.49 212.04 482.16 213.45C482.82 214.87 483.49 216.31 484.16 217.77C484.83 219.23 485.50 220.72 486.17 222.22C486.84 223.72 487.50 225.24 488.17 226.77C488.84 228.31 489.51 229.86 490.18 231.43C490.85 233.00 491.51 234.58 492.18 236.18C492.85 237.77 493.52 239.38 494.19 241.00C494.86 242.62 495.53 244.25 496.19 245.89C496.86 247.53 497.53 249.18 498.20 250.84C498.87 252.49 499.54 254.16 500.21 255.83C500.87 257.50 501.54 259.17 502.21 260.85C502.88 262.53 503.55 264.21 504.22 265.89C504.88 267.57 505.55 269.26 506.22 270.94C506.89 272.62 507.56 274.30 508.23 275.99C508.90 277.67 509.56 279.34 510.23 281.02C510.90 282.69 511.57 284.36 512.24 286.02C512.91 287.69 513.57 289.34 514.24 290.99C514.91 292.64 515.58 294.28 516.25 295.91C516.92 297.54 517.59 299.16 518.25 300.77C518.92 302.38 519.59 303.97 520.26 305.55C520.93 307.14 521.60 308.70 522.26 310.26C522.93 311.81 523.60 313.35 524.27 314.88C524.94 316.41 525.61 317.92 526.28 319.42C526.94 320.92 527.61 322.41 528.28 323.88C528.95 325.36 529.62 326.82 530.29 328.27C530.95 329.72 531.62 331.16 532.29 332.58C532.96 334.01 533.63 335.42 534.30 336.82C534.97 338.23 535.63 339.62 536.30 340.99C536.97 342.37 537.64 343.74 538.31 345.09C538.98 346.45 539.64 347.79 540.31 349.13C540.98 350.46 541.65 351.79 542.32 353.10C542.99 354.41 543.66 355.71 544.32 357.01C544.99 358.30 545.66 359.58 546.33 360.85C547.00 362.12 547.67 363.39 548.34 364.64C549.00 365.89 549.67 367.14 550.34 368.37C551.01 369.61 551.68 370.83 552.35 372.05C553.01 373.26 553.68 374.47 554.35 375.67C555.02 376.87 555.69 378.06 556.36 379.24C557.03 380.43 557.69 381.60 558.36 382.77C559.03 383.93 559.70 385.09 560.37 386.24C561.04 387.40 561.70 388.54 562.37 389.68C563.04 390.81 563.71 391.94 564.38 393.06C565.05 394.19 565.72 395.30 566.38 396.41C567.05 397.52 567.72 398.62 568.39 399.72C569.06 400.82 569.73 401.91 570.39 402.99C571.06 404.08 571.73 405.16 572.40 406.23" stroke="#0070c0" stroke-width="4.0" fill="none" stroke-linecap="round" stroke-linejoin="round"/>
<rect x="101.9" y="28.8" width="115" height="104.9" fill="#fff" stroke="#000" stroke-width="1.3"/>
<path d="M120.7 41.80H153.3" stroke="#ff0000" stroke-width="4.0" stroke-linecap="round"/>
<text x="157.2" y="46.30" class="lg" textLength="40.4" lengthAdjust="spacingAndGlyphs">Bin A</text>
<path d="M120.7 68.10H153.3" stroke="#000000" stroke-width="4.0" stroke-linecap="round"/>
<text x="157.2" y="72.60" class="lg" textLength="40.4" lengthAdjust="spacingAndGlyphs">Bin B</text>
<path d="M120.7 94.40H153.3" stroke="#a6a6a6" stroke-width="4.0" stroke-linecap="round"/>
<text x="157.2" y="98.90" class="lg" textLength="40.4" lengthAdjust="spacingAndGlyphs">Bin C</text>
<path d="M120.7 120.70H153.3" stroke="#0070c0" stroke-width="4.0" stroke-linecap="round"/>
<text x="157.2" y="125.20" class="lg" textLength="40.4" lengthAdjust="spacingAndGlyphs">Bin D</text>
<text x="76.3" y="547.50" class="tk" text-anchor="end">0</text>
<text x="76.3" y="473.81" class="tk" text-anchor="end">0.2</text>
<text x="76.3" y="400.12" class="tk" text-anchor="end">0.4</text>
<text x="76.3" y="326.43" class="tk" text-anchor="end">0.6</text>
<text x="76.3" y="252.74" class="tk" text-anchor="end">0.8</text>
<text x="76.3" y="179.05" class="tk" text-anchor="end">1</text>
<text x="76.3" y="105.36" class="tk" text-anchor="end">1.2</text>
<text x="76.3" y="31.67" class="tk" text-anchor="end">1.4</text>
<text x="90.70" y="567.8" class="tk" text-anchor="middle">0.1</text>
<text x="264.55" y="567.8" class="tk" text-anchor="middle">1</text>
<text x="437.80" y="567.8" class="tk" text-anchor="middle">10</text>
<text x="250.8" y="608.8" class="ti" textLength="174.2" lengthAdjust="spacingAndGlyphs">Forward Current (mA)</text>
<text transform="translate(14.6 353.7) rotate(-90)" class="ti" textLength="101.2" lengthAdjust="spacingAndGlyphs">Relative CTR</text>
</svg>
</body></html>
